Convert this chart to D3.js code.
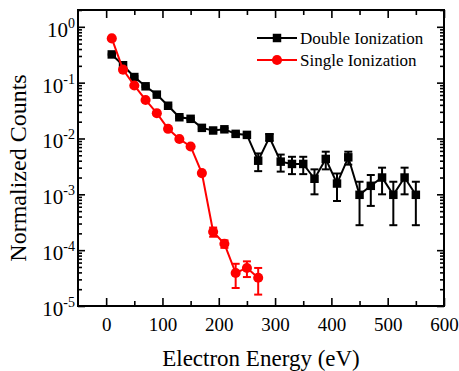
<!DOCTYPE html>
<html>
<head>
<meta charset="utf-8">
<script src="https://cdn.jsdelivr.net/npm/d3@7"></script>
</head>
<body style="margin:0">
<div id="chart"></div>
<script>
// electron energy (eV)
const doubleEnergy = [10, 30, 50, 70, 90, 110, 130, 150, 170, 190, 210, 230, 250, 270,
  290, 310, 330, 350, 370, 390, 410, 430, 450, 470, 490, 510, 530, 550];
const doubleCounts = [0.32, 0.205, 0.126, 0.086, 0.061, 0.0386, 0.024, 0.0225, 0.0155, 0.0139,
  0.0146, 0.0121, 0.0116, 0.004, 0.0105, 0.00385, 0.0035, 0.0035, 0.0019, 0.0043,
  0.00156, 0.0046, 0.00098, 0.00142, 0.002, 0.00098, 0.002, 0.00098];
const doubleErr = [0.01, 0.008, 0.005, 0.003, 0.002, 0.0015, 0.001, 0.001, 0.0008, 0.0008,
  0.0008, 0.0008, 0.0008, 0.0014, 0.0015, 0.0013, 0.0012, 0.0012, 0.0009, 0.0015,
  0.0008, 0.0012, 0.0007, 0.0008, 0.001, 0.0007, 0.001, 0.0007];

const singleEnergy = [10, 30, 50, 70, 90, 110, 130, 150, 170, 190, 210, 230, 250, 270];
const singleCounts = [0.62, 0.171, 0.089, 0.049, 0.0284, 0.0149, 0.0098, 0.0072, 0.0024,
  0.000214, 0.00013, 0.000039, 0.000048, 0.000032];
const singleErr = [0.01, 0.005, 0.002, 0.001, 0.0005, 0.0003, 0.0002, 0.0002, 0.0001,
  0.00004, 0.00002, 0.000018, 0.000015, 0.000016];

const xMajor = [0, 100, 200, 300, 400, 500, 600];
const xMinor = [50, 150, 250, 350, 450, 550];
const yMajor = [1e-5, 1e-4, 1e-3, 1e-2, 1e-1, 1];
const yExponents = ["-5", "-4", "-3", "-2", "-1", "0"];

const FONT = "'Liberation Serif', monospace";
const width = 459, height = 371;
const margin = {top: 10, right: 15, bottom: 65, left: 78};

const svg = d3.select("#chart").append("svg")
  .attr("width", width)
  .attr("height", height);

const x = d3.scaleLinear().domain([-50, 600]).range([margin.left, width - margin.right]);
const y = d3.scaleLog().domain([1e-5, 2]).range([height - margin.bottom, margin.top]);

// minor log ticks 2..9 per decade
const yMinor = y.ticks().filter(v => yMajor.indexOf(v) < 0);

function styleAxis(g) {
  g.select(".domain").remove();
  g.selectAll(".tick line").attr("stroke", "#000").attr("stroke-width", 1.6);
}

// bottom / top x ticks
svg.append("g")
  .attr("transform", "translate(0," + y.range()[0] + ")")
  .call(d3.axisBottom(x).tickValues(xMajor).tickSize(-8).tickPadding(12).tickFormat(d3.format("d")))
  .call(styleAxis)
  .call(g => g.selectAll("text").attr("font-size", 19).attr("dy", "0.71em")
    .attr("fill", "#000").style("font-family", FONT));
svg.append("g")
  .attr("transform", "translate(0," + y.range()[0] + ")")
  .call(d3.axisBottom(x).tickValues(xMinor).tickSize(-5).tickFormat(""))
  .call(styleAxis);
svg.append("g")
  .attr("transform", "translate(0," + y.range()[1] + ")")
  .call(d3.axisTop(x).tickValues(xMajor).tickSize(-8).tickFormat(""))
  .call(styleAxis);
svg.append("g")
  .attr("transform", "translate(0," + y.range()[1] + ")")
  .call(d3.axisTop(x).tickValues(xMinor).tickSize(-5).tickFormat(""))
  .call(styleAxis);

// left / right y ticks
svg.append("g")
  .attr("transform", "translate(" + x.range()[0] + ",0)")
  .call(d3.axisLeft(y).tickValues(yMajor).tickSize(-7).tickFormat(""))
  .call(styleAxis);
svg.append("g")
  .attr("transform", "translate(" + x.range()[0] + ",0)")
  .call(d3.axisLeft(y).tickValues(yMinor).tickSize(-4).tickFormat(""))
  .call(styleAxis);
svg.append("g")
  .attr("transform", "translate(" + x.range()[1] + ",0)")
  .call(d3.axisRight(y).tickValues(yMajor).tickSize(-7).tickFormat(""))
  .call(styleAxis);
svg.append("g")
  .attr("transform", "translate(" + x.range()[1] + ",0)")
  .call(d3.axisRight(y).tickValues(yMinor).tickSize(-4).tickFormat(""))
  .call(styleAxis);

// y tick labels as 10^n
const yLab = svg.append("g").selectAll("text")
  .data(yMajor)
  .enter().append("text")
  .attr("x", margin.left - 3)
  .attr("y", d => y(d) + 10)
  .attr("text-anchor", "end")
  .attr("font-size", 21)
  .style("font-family", FONT);
yLab.append("tspan").text("10");
yLab.append("tspan")
  .attr("font-size", 14)
  .attr("dy", -9)
  .text((d, i) => yExponents[i]);

// frame
svg.append("rect")
  .attr("x", margin.left)
  .attr("y", margin.top)
  .attr("width", x.range()[1] - x.range()[0])
  .attr("height", y.range()[0] - y.range()[1])
  .attr("fill", "none")
  .attr("stroke", "#000")
  .attr("stroke-width", 2);

function drawSeries(energy, counts, err, color, shape, size) {
  const pts = energy.map((e, i) => ({e: e, v: counts[i], s: err[i]}));
  const g = svg.append("g");

  const line = d3.line().x(d => x(d.e)).y(d => y(d.v));
  g.append("path")
    .datum(pts)
    .attr("d", line)
    .attr("fill", "none")
    .attr("stroke", color)
    .attr("stroke-width", 2);

  const lo = d => y(Math.max(d.v - d.s, 1e-6));
  const hi = d => y(d.v + d.s);
  const eb = g.selectAll(".eb").data(pts).enter().append("g");
  eb.append("line")
    .attr("x1", d => x(d.e)).attr("x2", d => x(d.e))
    .attr("y1", lo).attr("y2", hi)
    .attr("stroke", color).attr("stroke-width", 2);
  [lo, hi].forEach(fy => {
    eb.append("line")
      .attr("x1", d => x(d.e) - 4).attr("x2", d => x(d.e) + 4)
      .attr("y1", fy).attr("y2", fy)
      .attr("stroke", color).attr("stroke-width", 2);
  });

  g.selectAll(".mk").data(pts).enter().append("path")
    .attr("transform", d => "translate(" + x(d.e) + "," + y(d.v) + ")")
    .attr("d", d3.symbol().type(shape).size(size))
    .attr("fill", color);
}

drawSeries(doubleEnergy, doubleCounts, doubleErr, "#000", d3.symbolSquare, 72);
drawSeries(singleEnergy, singleCounts, singleErr, "#ff0000", d3.symbolCircle, 80);

// legend
const legendItems = [
  {label: "Double Ionization", color: "#000", shape: d3.symbolSquare, size: 72},
  {label: "Single Ionization", color: "#ff0000", shape: d3.symbolCircle, size: 80}
];
const lg = svg.append("g").selectAll("g")
  .data(legendItems)
  .enter().append("g")
  .attr("transform", (d, i) => "translate(257," + (38 + i * 22) + ")");
lg.append("line")
  .attr("x1", 0).attr("x2", 40)
  .attr("stroke", d => d.color).attr("stroke-width", 2);
lg.append("path")
  .attr("transform", "translate(20,0)")
  .attr("d", d => d3.symbol().type(d.shape).size(d.size)())
  .attr("fill", d => d.color);
lg.append("text")
  .attr("x", 43)
  .attr("y", 5.5)
  .attr("font-size", 17)
  .style("font-family", FONT)
  .text(d => d.label);

// axis titles
svg.append("text")
  .attr("x", (x.range()[0] + x.range()[1]) / 2)
  .attr("y", 366)
  .attr("text-anchor", "middle")
  .attr("font-size", 23)
  .style("font-family", FONT)
  .text("Electron Energy (eV)");
svg.append("text")
  .attr("transform", "translate(26,168) rotate(-90)")
  .attr("text-anchor", "middle")
  .attr("font-size", 24)
  .style("font-family", FONT)
  .text("Normalized Counts");
</script>
</body>
</html>
